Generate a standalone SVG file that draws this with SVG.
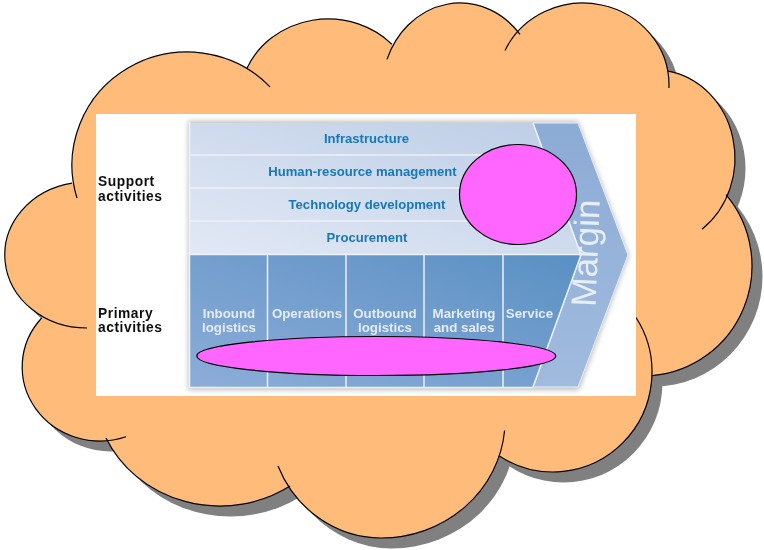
<svg xmlns="http://www.w3.org/2000/svg" width="764" height="550" viewBox="0 0 764 550">
<style>
.a{fill:none;stroke:#000;stroke-width:1.2}
.b{font-family:"Liberation Sans",Arial,sans-serif;font-weight:700;font-size:13.1px;text-anchor:middle;fill:#1878b4}
.w{font-family:"Liberation Sans",Arial,sans-serif;font-weight:700;font-size:13.3px;text-anchor:middle;fill:#e4ecf6}
.k{font-family:"Liberation Sans",Arial,sans-serif;font-weight:700;font-size:13.8px;letter-spacing:.55px;fill:#111}
.s{stroke:#edf1f8;stroke-width:1.5;fill:none}
.e{fill:#ff66ff;stroke:#000;stroke-width:1.2}
</style>
<defs>
<g id="c">
<ellipse cx="87" cy="255" rx="82" ry="73"/>
<ellipse cx="187" cy="165" rx="115" ry="113"/>
<ellipse cx="328" cy="100" rx="88" ry="81"/>
<ellipse cx="460" cy="90" rx="78" ry="87"/>
<ellipse cx="583" cy="85" rx="86" ry="82"/>
<ellipse cx="655" cy="158" rx="80" ry="88"/>
<ellipse cx="643" cy="266" rx="109" ry="110"/>
<ellipse cx="553" cy="372" rx="99" ry="100"/>
<path d="M505 420A124 118 0 0 1 381 538A112 118 0 0 1 269 420A112 118 0 0 1 381 302A124 118 0 0 1 505 420Z"/>
<ellipse cx="220" cy="390" rx="125" ry="116"/>
<ellipse cx="100" cy="367" rx="78" ry="74"/>
<polygon points="72,184 247,70 392,46 520,36 668,73 726,196 652,374 499,455 290,486 106,438 42,318"/>
</g>
<linearGradient id="t" x1="0" x2="1" y1="1" y2="0"><stop offset="0" stop-color="#e2e9f5"/><stop offset="1" stop-color="#bccde6"/></linearGradient>
<linearGradient id="p" x1="0" x2="1" y1="1" y2="0"><stop offset="0" stop-color="#8dadd8"/><stop offset="1" stop-color="#5a90c4"/></linearGradient>
<linearGradient id="m" x1="0" x2="0" y1="0" y2="1"><stop offset="0" stop-color="#8cabd5"/><stop offset="1" stop-color="#a0bbde"/></linearGradient>
<filter id="g" x="-10%" y="-10%" width="120%" height="120%"><feGaussianBlur stdDeviation="2.5"/></filter>
<filter id="f" x="-10%" y="-10%" width="120%" height="120%"><feGaussianBlur stdDeviation="0.35"/></filter>
</defs>
<g id="cloud">
<use href="#c" transform="translate(10.5 10.5)" fill="#808080"/>
<use href="#c" fill="#ffbb7a"/>
<path class="a" d="M87 328A82 73 0 0 1 72 183.200"/>
<path class="a" d="M77 198A115 113 0 0 1 270 86.800"/>
<path class="a" d="M247 68.300A88 81 0 0 1 392 44.400"/>
<path class="a" d="M387 59.400A78 87 0 0 1 520 34.400"/>
<path class="a" d="M505 50.500A86 82 0 0 1 669 85V88"/>
<path class="a" d="M668 71.200A80 88 0 0 1 702 229.200"/>
<path class="a" d="M726 194.700A109 110 0 0 1 652 375.600"/>
<path class="a" d="M636 317.500A99 100 0 0 1 499 455.800"/>
<path class="a" d="M504.600 430.500A124 118 0 0 1 381 538A112 118 0 0 1 278 466"/>
<path class="a" d="M290 486A125 116 0 0 1 106 438"/>
<path class="a" d="M126 436.800A78 74 0 0 1 41.700 318"/>
</g>
<g id="value-chain">
<rect x="96" y="114" width="540" height="282" fill="#fff"/>
<path d="M188 121H578L629 255L579 390H188Z" fill="#c0c0c0" filter="url(#g)"/>
<path d="M578 123L628 255L578 387H533L581 255L533 123Z" fill="url(#m)" stroke="#e8eef7"/>
<path d="M190 123H533L581 254H190Z" fill="url(#t)"/>
<path d="M190 255H581L533 387H190Z" fill="url(#p)"/>
<path class="s" d="M190 155H545M190 188H557M190 221H569M190 254.500H581M267.500 255V387M346 255V387M424 255V387M503 255V387M190 387.500H533M189.500 122V388M533 123L581 255L533 387"/>
<g filter="url(#f)">
<text class="b" x="366.500" y="142.500">Infrastructure</text>
<text class="b" x="362.500" y="176">Human-resource management</text>
<text class="b" x="367" y="209">Technology development</text>
<text class="b" x="367" y="242">Procurement</text>
<text class="w" x="229" y="318">Inbound</text>
<text class="w" x="229" y="332">logistics</text>
<text class="w" x="307" y="318">Operations</text>
<text class="w" x="385" y="318">Outbound</text>
<text class="w" x="385" y="332">logistics</text>
<text class="w" x="464" y="318">Marketing</text>
<text class="w" x="464" y="332">and sales</text>
<text class="w" x="529.500" y="318">Service</text>
<text class="k" x="98" y="185.800">Support</text>
<text class="k" x="98" y="200.500">activities</text>
<text class="k" x="98" y="317.500">Primary</text>
<text class="k" x="98" y="332.200">activities</text>
<text font-family="Liberation Sans,sans-serif" font-size="35" fill="#e8eef7" transform="translate(595.500 307) rotate(-87.700)">Margin</text>
</g>
</g>
<g id="circle"><ellipse class="e" cx="518" cy="194.500" rx="58.500" ry="50"/></g>
<g id="ellipse"><ellipse class="e" cx="376.300" cy="356" rx="179.500" ry="19.500"/></g>
</svg>
